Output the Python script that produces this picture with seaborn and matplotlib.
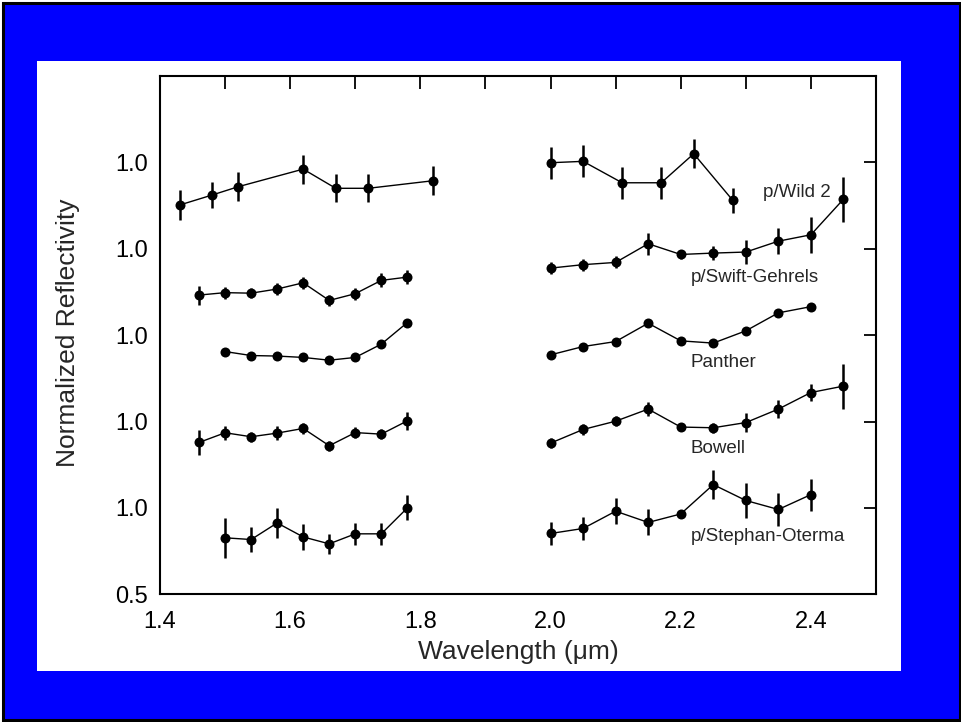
import numpy as np
import pandas as pd
import seaborn as sns
import matplotlib
matplotlib.use("Agg")
import matplotlib.pyplot as plt
from matplotlib.patches import Rectangle

# ---------------- data ----------------
comets = ["p/Wild 2", "p/Swift-Gehrels", "Panther", "Bowell", "p/Stephan-Oterma"]
offsets = [2.0, 1.5, 1.0, 0.5, 0.0]

wild2_wl_a = [1.43, 1.48, 1.52, 1.62, 1.67, 1.72, 1.82]
wild2_r_a = [0.753, 0.811, 0.859, 0.961, 0.850, 0.850, 0.894]
wild2_e_a = [0.085, 0.073, 0.083, 0.084, 0.081, 0.081, 0.084]
wild2_wl_b = [2.00, 2.05, 2.11, 2.17, 2.22, 2.28]
wild2_r_b = [0.998, 1.006, 0.882, 0.882, 1.050, 0.780]
wild2_e_b = [0.092, 0.092, 0.094, 0.092, 0.084, 0.072]

swift_wl_a = [1.46, 1.50, 1.54, 1.58, 1.62, 1.66, 1.70, 1.74, 1.78]
swift_r_a = [0.732, 0.746, 0.743, 0.767, 0.803, 0.701, 0.740, 0.817, 0.836]
swift_e_a = [0.055, 0.035, 0.030, 0.035, 0.035, 0.030, 0.035, 0.040, 0.042]
swift_wl_b = [2.00, 2.05, 2.10, 2.15, 2.20, 2.25, 2.30, 2.35, 2.40, 2.45]
swift_r_b = [0.888, 0.908, 0.921, 1.029, 0.967, 0.975, 0.981, 1.044, 1.081, 1.287]
swift_e_b = [0.035, 0.035, 0.035, 0.064, 0.025, 0.040, 0.068, 0.074, 0.103, 0.130]

panther_wl_a = [1.50, 1.54, 1.58, 1.62, 1.66, 1.70, 1.74, 1.78]
panther_r_a = [0.905, 0.882, 0.879, 0.871, 0.855, 0.871, 0.948, 1.073]
panther_e_a = [0, 0, 0, 0, 0, 0, 0, 0]
panther_wl_b = [2.00, 2.05, 2.10, 2.15, 2.20, 2.25, 2.30, 2.35, 2.40]
panther_r_b = [0.886, 0.934, 0.963, 1.069, 0.967, 0.954, 1.025, 1.129, 1.165]
panther_e_b = [0, 0, 0, 0, 0, 0, 0, 0, 0]

bowell_wl_a = [1.46, 1.50, 1.54, 1.58, 1.62, 1.66, 1.70, 1.74, 1.78]
bowell_r_a = [0.879, 0.935, 0.912, 0.933, 0.960, 0.860, 0.936, 0.927, 1.004]
bowell_e_a = [0.072, 0.040, 0.030, 0.040, 0.030, 0.030, 0.030, 0.030, 0.052]
bowell_wl_b = [2.00, 2.05, 2.10, 2.15, 2.20, 2.25, 2.30, 2.35, 2.40, 2.45]
bowell_r_b = [0.875, 0.954, 1.002, 1.072, 0.968, 0.964, 0.994, 1.072, 1.168, 1.205]
bowell_e_b = [0.030, 0.030, 0.030, 0.040, 0.020, 0.030, 0.055, 0.052, 0.050, 0.130]

stephan_wl_a = [1.50, 1.54, 1.58, 1.62, 1.66, 1.70, 1.74, 1.78]
stephan_r_a = [0.827, 0.817, 0.913, 0.832, 0.792, 0.850, 0.850, 1.000]
stephan_e_a = [0.116, 0.075, 0.087, 0.075, 0.058, 0.064, 0.064, 0.072]
stephan_wl_b = [2.00, 2.05, 2.10, 2.15, 2.20, 2.25, 2.30, 2.35, 2.40]
stephan_r_b = [0.852, 0.881, 0.981, 0.916, 0.965, 1.135, 1.043, 0.991, 1.077]
stephan_e_b = [0.064, 0.064, 0.075, 0.075, 0.025, 0.084, 0.104, 0.098, 0.092]

xtick_labels = ["1.4", "1.6", "1.8", "2.0", "2.2", "2.4"]
xtick_minor = [1.5, 1.7, 1.9, 2.1, 2.3]
ytick_vals = [0.5, 1.0, 1.5, 2.0, 2.5, 3.0]
ytick_labels = ["0.5", "1.0", "1.0", "1.0", "1.0", "1.0"]

segments = {
    "p/Wild 2": [(wild2_wl_a, wild2_r_a, wild2_e_a), (wild2_wl_b, wild2_r_b, wild2_e_b)],
    "p/Swift-Gehrels": [(swift_wl_a, swift_r_a, swift_e_a), (swift_wl_b, swift_r_b, swift_e_b)],
    "Panther": [(panther_wl_a, panther_r_a, panther_e_a), (panther_wl_b, panther_r_b, panther_e_b)],
    "Bowell": [(bowell_wl_a, bowell_r_a, bowell_e_a), (bowell_wl_b, bowell_r_b, bowell_e_b)],
    "p/Stephan-Oterma": [(stephan_wl_a, stephan_r_a, stephan_e_a), (stephan_wl_b, stephan_r_b, stephan_e_b)],
}

rows = []
for name, off in zip(comets, offsets):
    for k, (wl, r, e) in enumerate(segments[name]):
        for w_, r_, e_ in zip(wl, r, e):
            rows.append(dict(comet=name, seg=f"{name}-{k}", wl=w_, refl=r_,
                             err=e_, y=r_ + off))
df = pd.DataFrame(rows)

# ---------------- style ----------------
sns.set_style("white")
plt.rcParams["font.family"] = ["Liberation Sans", "DejaVu Sans"]

fig = plt.figure(figsize=(9.61, 7.22), dpi=100)
fig.patch.set_facecolor("white")
W, H = 961.0, 722.0
fig.add_artist(Rectangle((3 / W, (H - 720) / H), 957 / W, 717 / H,
                         transform=fig.transFigure, facecolor="#0000FF",
                         edgecolor="black", lw=2.2, zorder=-10))
fig.add_artist(Rectangle((36.7 / W, (H - 671) / H), 864.6 / W, 610 / H,
                         transform=fig.transFigure, facecolor="white",
                         edgecolor="none", zorder=-9))

ax = fig.add_axes([160 / W, (H - 594.3) / H, 716 / W, 518.3 / H])
ax.set_facecolor("white")

sns.lineplot(data=df, x="wl", y="y", units="seg", estimator=None, sort=True,
             color="black", lw=1.0, marker="o", markersize=7.2,
             markeredgewidth=0, legend=False, ax=ax)
de = df[df.err > 0]
ax.errorbar(de.wl, de.y, yerr=de.err, fmt="none", ecolor="black",
            elinewidth=1.8, capsize=0)

ax.set_xlim(1.4, 2.5)
ax.set_ylim(0.5, 3.5)
ax.set_xticks([float(t) for t in xtick_labels])
ax.set_xticklabels(xtick_labels)
ax.set_xticks(xtick_minor, minor=True)
ax.set_yticks(ytick_vals)
ax.set_yticklabels(ytick_labels)

ax.tick_params(axis="both", which="both", direction="in", top=True, right=True,
               length=9, width=1.3, colors="black")
ax.tick_params(axis="x", which="major", pad=12, labelsize=17)
ax.tick_params(axis="y", which="major", pad=8.5, labelsize=17)
for sp in ax.spines.values():
    sp.set_visible(True)
    sp.set_color("black")
    sp.set_linewidth(1.5)

ax.set_xlabel("Wavelength (\u03bcm)", fontsize=19)
ax.set_ylabel("Normalized Reflectivity", fontsize=19)
ax.xaxis.set_label_coords(0.5, -0.088)
ax.yaxis.set_label_coords(-0.112, 0.505)

# comet labels
ax.text(2.43, 2.828, "p/Wild 2", ha="right", va="center", fontsize=13.5)
ax.text(2.2155, 2.336, "p/Swift-Gehrels", ha="left", va="center", fontsize=13.5)
ax.text(2.2155, 1.843, "Panther", ha="left", va="center", fontsize=13.5)
ax.text(2.2155, 1.344, "Bowell", ha="left", va="center", fontsize=13.5)
ax.text(2.2155, 0.837, "p/Stephan-Oterma", ha="left", va="center", fontsize=13.5)

fig.savefig("out.png", dpi=100, facecolor=fig.get_facecolor())
